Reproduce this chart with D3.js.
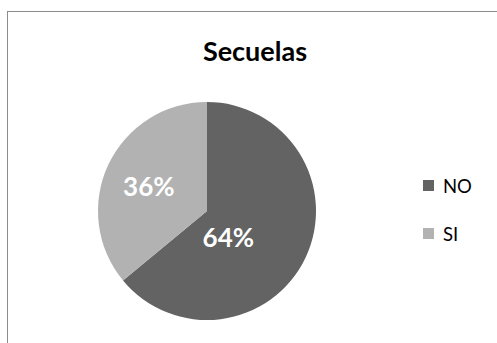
<!DOCTYPE html>
<html>
<head>
<meta charset="utf-8">
<script src="https://cdn.jsdelivr.net/npm/d3@7"></script>
<style>
  html, body { margin: 0; padding: 0; background: #fff; }
  svg { display: block; }
</style>
</head>
<body>
<svg id="chart" width="497" height="343"></svg>
<script>
// Chart data
const title = "Secuelas";
const categories = ["NO", "SI"];
const values = [64, 36];
const colors = ["#636363", "#b2b2b2"];

const W = 497, H = 343;
const svg = d3.select("#chart");

// Chart area frame (extends past the right and bottom edges)
svg.append("rect")
  .attr("x", 7.5).attr("y", 11.5)
  .attr("width", W + 10).attr("height", H + 10)
  .attr("fill", "#fff")
  .attr("stroke", "#8c8c8c")
  .attr("stroke-width", 1);

svg.append("text")
  .attr("x", 255).attr("y", 61)
  .attr("text-anchor", "middle")
  .attr("font-family", "Lato, 'Open Sans', sans-serif")
  .attr("font-weight", "bold")
  .attr("font-size", 27)
  .attr("fill", "#000")
  .text(title);

const cx = 207, cy = 211, r = 109;
const g = svg.append("g").attr("transform", `translate(${cx},${cy})`);

const pie = d3.pie().sort(null).value(d => d.v);
const data = categories.map((c, i) => ({ c, v: values[i], color: colors[i] }));
const arcs = pie(data);
const arc = d3.arc().innerRadius(0).outerRadius(r);

g.selectAll("path.slice")
  .data(arcs)
  .join("path")
  .attr("class", "slice")
  .attr("d", arc)
  .attr("fill", d => d.data.color);

// Label placement: angle shift (rad) and radial fraction per slice
const labelPlacement = [
  { shift: 0.45, frac: 0.31 },
  { shift: -0.04, frac: 0.58 }
];
const total = d3.sum(values);
g.selectAll("text.pct")
  .data(arcs)
  .join("text")
  .attr("class", "pct")
  .each(function (d, i) {
    const a = (d.startAngle + d.endAngle) / 2 + labelPlacement[i].shift;
    const rr = r * labelPlacement[i].frac;
    d3.select(this)
      .attr("x", Math.sin(a) * rr)
      .attr("y", -Math.cos(a) * rr);
  })
  .attr("text-anchor", "middle")
  .attr("dominant-baseline", "central")
  .attr("font-family", "Lato, 'Open Sans', sans-serif")
  .attr("font-weight", "bold")
  .attr("font-size", 26)
  .attr("fill", "#fff")
  .text(d => Math.round(d.data.v / total * 100) + "%");

// Legend
const legend = svg.append("g").attr("transform", "translate(423,180)");
const item = legend.selectAll("g.item")
  .data(data)
  .join("g")
  .attr("class", "item")
  .attr("transform", (d, i) => `translate(0,${i * 48})`);
item.append("rect")
  .attr("width", 11).attr("height", 11)
  .attr("fill", d => d.color);
item.append("text")
  .attr("x", 20).attr("y", 5.5)
  .attr("dominant-baseline", "central")
  .attr("font-family", "Lato, 'Open Sans', sans-serif")
  .attr("font-size", 18.5)
  .attr("fill", "#000")
  .text(d => d.c);
</script>
</body>
</html>
